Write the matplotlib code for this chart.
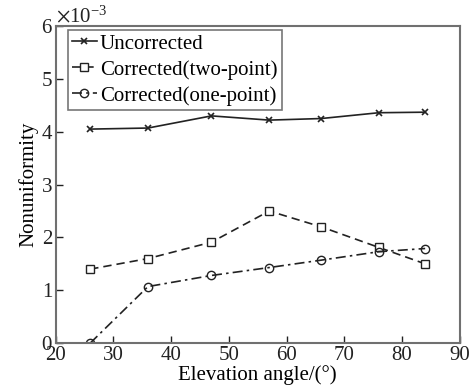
import numpy as np
import matplotlib
matplotlib.use("Agg")
import matplotlib.pyplot as plt

plt.rcParams['font.family'] = ['Liberation Serif', 'DejaVu Serif']
plt.rcParams['mathtext.fontset'] = 'stix'

# Elevation angle (degrees)
angles = [26, 36, 47, 57, 66, 76, 84]

# Nonuniformity (x1e-3)
uncorrected = [4.05, 4.07, 4.30, 4.22, 4.25, 4.36, 4.37]
two_point = [1.40, 1.60, 1.91, 2.50, 2.20, 1.81, 1.50]
one_point = [0.00, 1.07, 1.28, 1.43, 1.57, 1.73, 1.79]

fig = plt.figure(figsize=(4.75, 3.89), dpi=100)
ax = fig.add_axes([0.117, 0.118, 0.851, 0.815])

scale = 1e-3
ax.plot(angles, np.array(uncorrected) * scale, color='#222222', lw=1.2,
        marker='x', ms=5, mew=1.2, label='Uncorrected')
ax.plot(angles, np.array(two_point) * scale, color='#222222', lw=1.2,
        ls=(0, (5, 3)), marker='s', ms=6, mfc='white', mew=1.0,
        label='Corrected(two-point)')
ax.plot(angles, np.array(one_point) * scale, color='#222222', lw=1.2,
        ls=(0, (6, 2.5, 1.5, 2.5)), marker='o', ms=6, mfc='none', mew=1.0,
        label='Corrected(one-point)')

ax.set_xlim(20, 90)
ax.set_ylim(0, 6e-3)
ax.set_xticks(np.arange(20, 91, 10))
ax.set_yticks(np.arange(0, 6.1e-3, 1e-3))
ax.ticklabel_format(axis='y', style='sci', scilimits=(0, 0), useMathText=True)
ax.yaxis.get_offset_text().set_fontsize(15)

ax.tick_params(direction='in', length=5, width=1, labelsize=15, colors='#222222',
               top=False, right=False, pad=2)
for side in ['top', 'right', 'bottom', 'left']:
    ax.spines[side].set_color('#707070')
    ax.spines[side].set_linewidth(1.5)

ax.set_xlabel('Elevation angle/(°)', fontsize=15, labelpad=0)
ax.set_ylabel('Nonuniformity', fontsize=15, labelpad=2)

leg = ax.legend(loc='upper left', bbox_to_anchor=(0.03, 0.988), fontsize=15,
                frameon=True, fancybox=False,
                handlelength=1.2, handletextpad=0.15, borderpad=0.2,
                labelspacing=0.3, borderaxespad=0)
leg.get_frame().set_edgecolor('#555555')
leg.get_frame().set_linewidth(1.2)

fig.savefig('out.png', dpi=100)
